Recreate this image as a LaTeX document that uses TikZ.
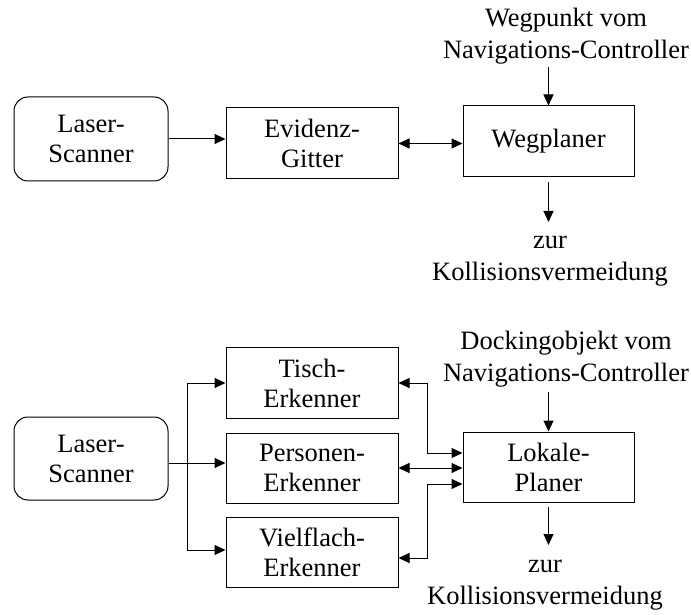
\documentclass[tikz,border=0pt]{standalone}
\usepackage{fontspec}
\setmainfont{Liberation Serif}
\usetikzlibrary{arrows.meta,positioning}

\tikzset{
  box/.style={draw, line width=1pt, minimum width=172pt, minimum height=70pt,
    align=center, font=\fontsize{26.5}{30}\selectfont},
  rbox/.style={box, rounded corners=14pt, minimum width=154pt, minimum height=84pt},
  lbl/.style={align=center, font=\fontsize{26.5}{32}\selectfont},
  pfeil/.style={line width=1pt, -{Triangle[length=11pt,width=10pt]}},
  dpfeil/.style={line width=1pt, {Triangle[length=11pt,width=10pt]}-{Triangle[length=11pt,width=10pt]}}
}

\begin{document}
\begin{tikzpicture}[x=10pt,y=10pt]
    \useasboundingbox (0,0) rectangle (69.1,61.4);

    % oben: Wegplanung
    \node[rbox] (laserA) at (9.1,47.5) {Laser-\\Scanner};
    \node[box, minimum height=71pt] (gitter) at (31.2,47.05) {Evidenz-\\Gitter};
    \node[box, minimum width=171pt, minimum height=71pt] (wegplaner) at (54.85,47.25) {Wegplaner};
    \node[lbl] (wegpunkt) at (56.6,57.8) {Wegpunkt vom\\Navigations-Controller};
    \node[lbl] (zurA) at (55.0,35.3) {zur\\Kollisionsvermeidung};
    \coordinate (wpIn) at (54.85,54.7);
    \coordinate (wpOut) at (54.85,39.2);

    \draw[pfeil] (laserA.east) -- (laserA.east -| gitter.west);
    \draw[dpfeil] (gitter.east) -- (gitter.east -| wegplaner.west);
    \draw[pfeil] (wpIn) -- (wegplaner.north);
    \draw[pfeil] ([yshift=-5pt]wegplaner.south) -- (wpOut);

    % unten: lokale Planung
    \node[rbox, minimum height=83pt] (laserB) at (9.1,15.55) {Laser-\\Scanner};
    \node[box] (tisch) at (31.2,23.1) {Tisch-\\Erkenner};
    \node[box] (personen) at (31.2,14.6) {Personen-\\Erkenner};
    \node[box] (vielflach) at (31.2,6.2) {Vielflach-\\Erkenner};
    \node[box, minimum width=171pt] (lokale) at (54.85,14.7) {Lokale-\\Planer};
    \node[lbl] (docking) at (56.6,25.5) {Dockingobjekt vom\\Navigations-Controller};
    \node[lbl] (zurB) at (54.5,2.9) {zur\\Kollisionsvermeidung};
    \coordinate (dkIn) at (54.85,22.2);
    \coordinate (lpOut) at (54.85,6.9);
    \coordinate (verteiler) at (18.7,15.1);
    \coordinate (busO) at (42.7,16.1);
    \coordinate (busU) at (42.7,13.0);

    \draw[line width=1pt] (laserB.east |- verteiler) -- (verteiler);
    \draw[pfeil] (verteiler) |- (tisch.west);
    \draw[pfeil] (verteiler) -- (personen.west |- verteiler);
    \draw[pfeil] (verteiler) |- ([yshift=2pt]vielflach.west);

    \draw[dpfeil] (tisch.east) -| (busO) -- (busO -| lokale.west);
    \draw[dpfeil] (personen.east) -- (personen.east -| lokale.west);
    \draw[dpfeil] ([yshift=-6pt]vielflach.east) -| (busU) -- (busU -| lokale.west);

    \draw[pfeil] (dkIn) -- (lokale.north);
    \draw[pfeil] ([yshift=-4pt]lokale.south) -- (lpOut);
\end{tikzpicture}
\end{document}
